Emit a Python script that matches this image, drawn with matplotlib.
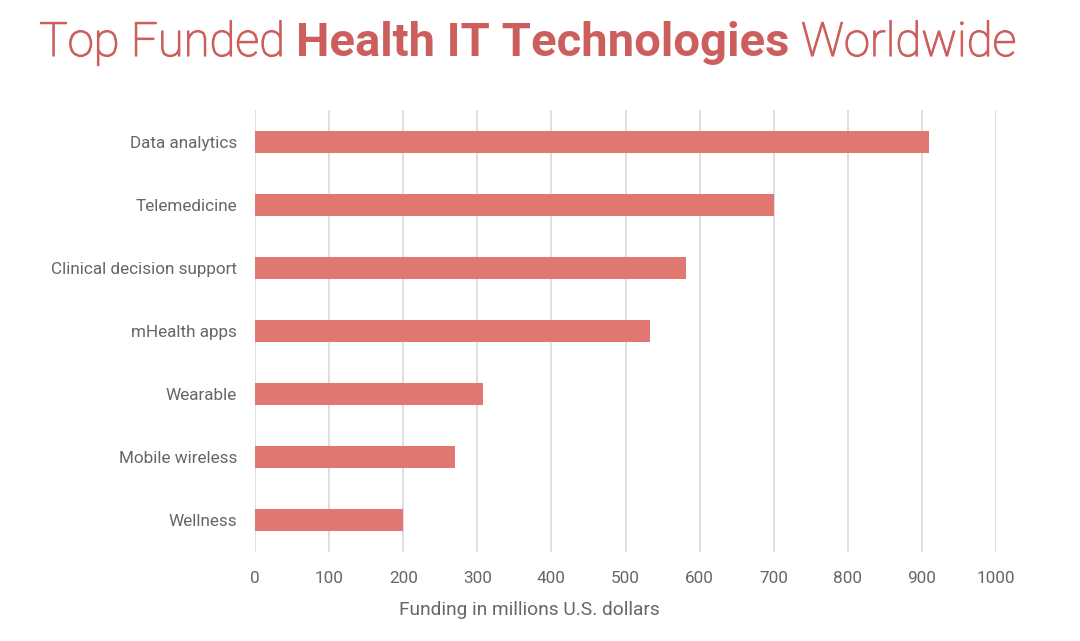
import matplotlib
matplotlib.use("Agg")
import matplotlib.pyplot as plt
import matplotlib.patheffects as pe

categories = ["Data analytics", "Telemedicine", "Clinical decision support",
              "mHealth apps", "Wearable", "Mobile wireless", "Wellness"]
funding = [910, 700, 581, 533, 308, 270, 200]
x_ticks = [0, 100, 200, 300, 400, 500, 600, 700, 800, 900, 1000]

title_parts = [("Top Funded ", "light"), ("Health IT Technologies", "bold"), (" Worldwide", "light")]

bar_color = "#e07770"
title_color = "#cc5f5d"
text_color = "#666666"

plt.rcParams["font.family"] = ["Roboto", "DejaVu Sans"]

W, H = 1080, 641
fig = plt.figure(figsize=(W / 100, H / 100), dpi=100)
# axes: x from 255 to 996 px, y from 110 to 552 px
ax = fig.add_axes([255 / W, 1 - 552 / H, (996 - 255) / W, (552 - 110) / H])

y_pos = list(range(len(categories)))
ax.barh(y_pos, funding, height=0.35, color=bar_color, zorder=3)
ax.set_ylim(len(categories) - 0.5, -0.5)
ax.set_xlim(0, 1000)
ax.set_yticks(y_pos)
ax.set_yticklabels(categories)
ax.set_xticks(x_ticks)
ax.set_xticklabels([str(t) for t in x_ticks])

ax.grid(axis="x", color="#dcdcdc", linewidth=1.3, zorder=0)
ax.set_axisbelow(True)
for side in ["top", "right", "bottom", "left"]:
    ax.spines[side].set_visible(False)
ax.tick_params(axis="both", length=0, labelsize=12.3, labelcolor=text_color)
ax.tick_params(axis="x", pad=14)
ax.tick_params(axis="y", pad=13)

fig.text(529 / W, 1 - 610 / H, "Funding in millions U.S. dollars", fontsize=13.8,
         color=text_color, ha="center", va="center")

# title built from pieces with different weights
renderer = fig.canvas.get_renderer()
pieces = []
total_w = 0
for txt, w in title_parts:
    t = fig.text(0, 1 - 56 / H, txt, fontsize=34, fontweight=w, color=title_color,
                 va="baseline", ha="left")
    if w == "light":
        # thin face is a bit too thin, thicken slightly
        t.set_path_effects([pe.withStroke(linewidth=0.9, foreground=title_color)])
    bb = t.get_window_extent(renderer=renderer)
    pieces.append((t, bb.width))
    total_w += bb.width
x0 = (528 - total_w / 2) / W
for t, w in pieces:
    t.set_x(x0)
    x0 += w / W

fig.savefig("out.png", dpi=100)
